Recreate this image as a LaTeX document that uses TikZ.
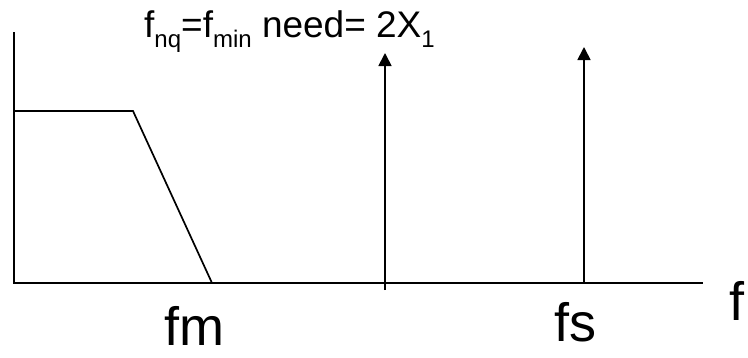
\documentclass[tikz,border=0pt]{standalone}
\usepackage{fontspec}
\setmainfont{Liberation Sans}
\usetikzlibrary{arrows.meta}

\newcommand{\lowsub}[1]{\raisebox{-10pt}{\fontsize{24}{24}\selectfont #1}}

\begin{document}
\begin{tikzpicture}[x=1pt, y=-1pt,
    axis/.style={line width=1.7pt},
    impulse/.style={line width=1.7pt, -{Triangle[width=13pt,length=13pt]}},
    biglabel/.style={anchor=base, inner sep=0pt, text depth=0pt, font=\fontsize{54}{60}\selectfont},
    toplabel/.style={anchor=base west, inner sep=0pt, font=\fontsize{37}{42}\selectfont}]
    \useasboundingbox (0,0) rectangle (748,357);

    \coordinate (origin) at (14,283);
    \coordinate (ytop) at (14,32);
    \coordinate (xend) at (703,283);
    \draw[axis] (ytop) -- (origin) -- (xend);

    % spectrum of the signal
    \coordinate (corner) at (133,111);
    \coordinate (fmfoot) at (212,283);
    \draw[axis] (14,111) -- (corner) -- (fmfoot);

    % sampling impulses
    \coordinate (nqfoot) at (385,290);
    \coordinate (nqtip) at (385,53);
    \coordinate (fsfoot) at (584,283);
    \coordinate (fstip) at (584,47);
    \draw[impulse] (nqfoot) -- (nqtip);
    \draw[impulse] (fsfoot) -- (fstip);

    \node[toplabel] (need) at (144,37)
        {f\lowsub{nq}=f\lowsub{min} need= 2X\lowsub{1}};
    \node[biglabel] (fm) at (194,345) {fm};
    \node[biglabel] (fs) at (575,341) {fs};
    \node[biglabel, anchor=base west] (f) at (729,320) {f};
\end{tikzpicture}
\end{document}
